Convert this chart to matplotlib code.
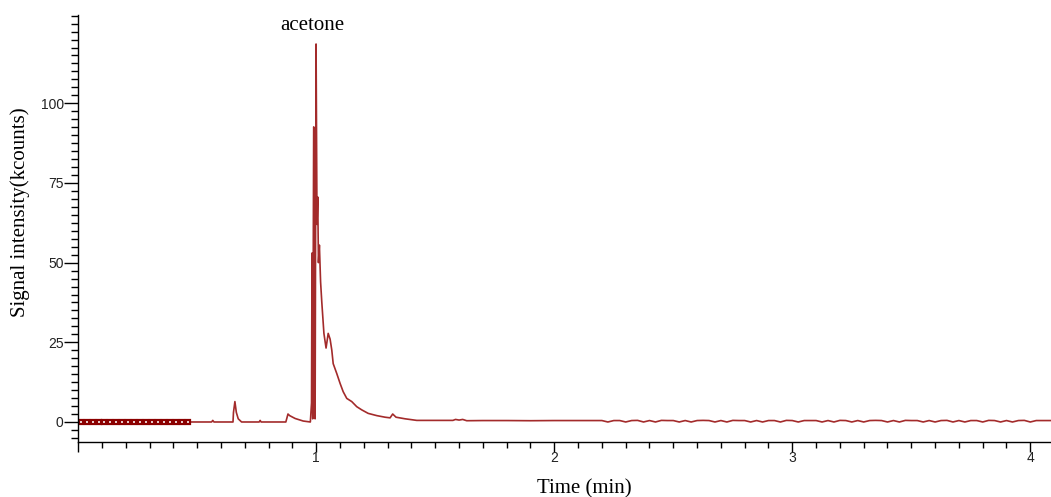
import matplotlib
matplotlib.use("Agg")
import matplotlib.pyplot as plt
from matplotlib.ticker import FixedLocator, MultipleLocator

# baseline section drawn with square markers (min, kcounts)
t_marked = [0.01, 0.035, 0.06, 0.085, 0.11, 0.135, 0.16, 0.185, 0.21, 0.235,
            0.26, 0.285, 0.31, 0.335, 0.36, 0.385, 0.41, 0.435, 0.46]
y_marked = [0.0] * len(t_marked)

# chromatogram trace up to the end of the acetone tail (min, kcounts)
t_trace = [0.46, 0.56, 0.565, 0.57, 0.65, 0.652, 0.658, 0.664, 0.672, 0.686,
           0.76, 0.764, 0.768, 0.872, 0.881, 0.888, 0.911, 0.945, 0.975,
           0.980, 0.982, 0.985, 0.989, 0.992, 0.995, 0.999, 1.003, 1.006,
           1.009, 1.013, 1.018, 1.023, 1.029, 1.032, 1.041, 1.050, 1.058,
           1.065, 1.071, 1.086, 1.100, 1.113, 1.128, 1.149, 1.170, 1.191,
           1.218, 1.254, 1.289, 1.310, 1.321, 1.335, 1.373, 1.422, 1.490,
           1.574, 1.585, 1.600, 1.615, 1.632, 1.70, 1.80, 1.90, 2.00, 2.10,
           2.20]
y_trace = [0.0, 0.0, 0.5, 0.0, 0.0, 3.0, 6.4, 3.0, 1.0, 0.0,
           0.0, 0.5, 0.0, 0.0, 2.5, 2.0, 1.1, 0.3, 0.0,
           6.0, 53.0, 1.0, 92.6, 92.0, 1.0, 118.6, 62.0, 70.6,
           50.0, 55.5, 44.0, 37.7, 31.4, 27.8, 23.2, 27.8, 26.0,
           22.6, 18.3, 15.2, 12.1, 9.5, 7.4, 6.4, 4.8, 3.8,
           2.7, 2.0, 1.5, 1.3, 2.5, 1.5, 1.0, 0.5, 0.5,
           0.5, 0.8, 0.6, 0.8, 0.4, 0.45, 0.45, 0.4, 0.45, 0.45,
           0.45]

# late baseline wiggle (min, kcounts)
t_late = [2.225, 2.25, 2.275, 2.30, 2.325, 2.35, 2.375, 2.40, 2.425, 2.45,
          2.475, 2.50, 2.525, 2.55, 2.575, 2.60, 2.625, 2.65, 2.675, 2.70,
          2.725, 2.75, 2.775, 2.80, 2.825, 2.85, 2.875, 2.90, 2.925, 2.95,
          2.975, 3.00, 3.025, 3.05, 3.075, 3.10, 3.125, 3.15, 3.175, 3.20,
          3.225, 3.25, 3.275, 3.30, 3.325, 3.35, 3.375, 3.40, 3.425, 3.45,
          3.475, 3.50, 3.525, 3.55, 3.575, 3.60, 3.625, 3.65, 3.675, 3.70,
          3.725, 3.75, 3.775, 3.80, 3.825, 3.85, 3.875, 3.90, 3.925, 3.95,
          3.975, 4.00, 4.025, 4.05, 4.09]
y_late = [0.0, 0.45, 0.45, 0.0, 0.45, 0.5, 0.0, 0.45, 0.0, 0.5,
          0.45, 0.45, 0.0, 0.45, 0.0, 0.45, 0.5, 0.45, 0.0, 0.45,
          0.0, 0.5, 0.45, 0.45, 0.0, 0.45, 0.0, 0.45, 0.45, 0.0,
          0.5, 0.45, 0.0, 0.45, 0.45, 0.45, 0.0, 0.45, 0.0, 0.5,
          0.45, 0.0, 0.45, 0.0, 0.45, 0.5, 0.45, 0.0, 0.45, 0.0,
          0.5, 0.45, 0.45, 0.0, 0.45, 0.0, 0.45, 0.5, 0.0, 0.45,
          0.0, 0.45, 0.45, 0.0, 0.5, 0.45, 0.0, 0.45, 0.0, 0.45,
          0.5, 0.0, 0.45, 0.45, 0.45]

x_major = [0, 1, 2, 3, 4]
x_labels = ["", "1", "2", "3", "4"]
y_major = [0, 25, 50, 75, 100]
y_labels = ["0", "25", "50", "75", "100"]

line_col = "#a32b2b"
band_col = "#8b0000"

fig = plt.figure(figsize=(10.51, 4.97), dpi=100)
ax = fig.add_axes([0.0745, 0.1097, 0.9255, 0.8601])

ax.plot(t_trace + t_late, y_trace + y_late, color=line_col, lw=1.2)
ax.plot(t_marked, y_marked, color=band_col, lw=2, marker="s", ms=2.7,
        mfc="white", mec=band_col, mew=1.6)

ax.set_xlim(0, 4.087)
ax.set_ylim(-6.43, 127.7)

ax.xaxis.set_major_locator(FixedLocator(x_major))
ax.set_xticklabels(x_labels)
ax.xaxis.set_minor_locator(MultipleLocator(0.1))
ax.yaxis.set_major_locator(FixedLocator(y_major))
ax.set_yticklabels(y_labels)
ax.yaxis.set_minor_locator(MultipleLocator(2.5))

ax.tick_params(axis="x", which="major", length=7.5, width=1, pad=-1.5,
               labelsize=10, labelcolor="#222222")
ax.tick_params(axis="x", which="minor", length=4.5, width=1)
ax.tick_params(axis="y", which="major", length=10, width=1, pad=0.5,
               labelsize=10, labelcolor="#222222")
ax.tick_params(axis="y", which="minor", length=5, width=1)
for lbl in ax.get_xticklabels() + ax.get_yticklabels():
    lbl.set_family("Liberation Sans")

ax.spines["top"].set_visible(False)
ax.spines["right"].set_visible(False)
ax.spines["left"].set_linewidth(1)
ax.spines["bottom"].set_linewidth(1)

ax.text(0.985, 124.3, "acetone", ha="center", va="center",
        family="Liberation Serif", fontsize=15)

fig.text(584 / 1051, 1 - 489 / 497, "Time (min)", ha="center", va="center",
         family="Liberation Serif", fontsize=15)
fig.text(20 / 1051, 1 - 212 / 497, "Signal intensity(kcounts)", rotation=90,
         ha="center", va="center", family="Liberation Serif", fontsize=15)

fig.savefig("out.png", dpi=100)
